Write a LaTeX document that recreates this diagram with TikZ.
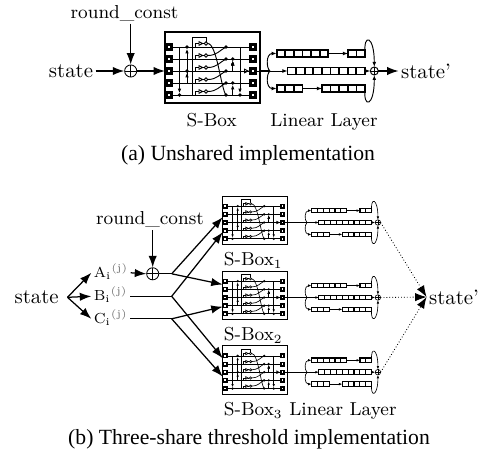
\documentclass[tikz,border=0pt]{standalone}
\usepackage{fontspec}
\usepackage{tikz}
\usetikzlibrary{arrows.meta}
\usetikzlibrary{calc}
\newfontfamily\capfont{Liberation Serif}
\newcommand{\cellrow}[3]{\foreach \k in {1,...,#3} {\draw[fill=white] ({#1+8.6*(\k-1)},{#2-3.35}) rectangle ++(8.6,6.7);}}
\newcommand{\xdot}[2]{\fill (#1,#2) circle (1.9);}
\newcommand{\share}[1]{#1\textsubscript{\tiny i}\textsuperscript{\tiny\color{black!60}(j)}}

\tikzset{
  lbl/.style={inner sep=1pt},
  captext/.style={inner sep=1pt, font=\capfont\fontsize{10.4pt}{12pt}\selectfont},
  bigarr/.style={semithick, -{Latex[length=5.5pt,width=4pt]}},
  dotarr/.style={densely dotted, -{Latex[length=5.5pt,width=4pt]}},
  xor/.style={circle, draw, minimum size=5.8pt, inner sep=0pt,
    path picture={\draw (path picture bounding box.north) -- (path picture bounding box.south)
      (path picture bounding box.west) -- (path picture bounding box.east);}},
  pics/sbox/.style={code={
    \begin{scope}[scale=#1, line width=#1*0.45pt,
        sarr/.style={-{Latex[length=2.2pt,width=1.7pt,scale=#1]}}]
      \coordinate (-nw) at (0,-39);
      \coordinate (-sw) at (0,32);
      \coordinate (-w) at (0,0);
      \coordinate (-e) at (95,0);
      \draw[line width=#1*0.6pt] (0,-39) rectangle (95,32);
      % bit lines and ports
      \foreach \r in {-24,-12,0,12,24} {
        \draw (4,\r) -- (88,\r);
        \draw[line width=#1*1.1pt, fill=white] (1.5,\r-2.5) rectangle (6.5,\r+2.5);
        \draw[line width=#1*1.1pt, fill=white] (85.5,\r-2.5) rectangle (90.5,\r+2.5);
      }
      \draw (90.5,0) -- (95,0);
      % input xors
      \draw[sarr] (14.5,-24) -- (14.5,22.2);
      \draw (22,12) -- (22,-12);
      \draw[sarr] (22,-12) -- (22,-22.2);
      \draw[sarr] (22,12) -- (22,1.8);
      \xdot{14.5}{24}
      \xdot{22}{-24}
      \xdot{22}{0}
      % and-not gates
      \draw (27.5,24) -- (27.5,-34) -- (41,-34) -- (41,-29.2);
      \foreach \r in {-24,-12,0,12,24} {
        \draw (30.5,\r) |- (34,\r-3.5);
        \draw (34,\r-5.3) -- (37.5,\r-3.5) -- (34,\r-1.7) -- cycle;
        \draw (37.5,\r-3.5) -- (39.3,\r-3.5);
        \draw[fill=white] (41,\r-3.5) circle (1.7);
      }
      \draw (42.7,-27.5) .. controls (52,-27.5) and (56,18) .. (61,24);
      \foreach \a/\b in {-12/-24,0/-12,12/0,24/12}
        \draw (42.7,\a-3.5) .. controls (52,\a-3.5) and (55,\b+3) .. (61,\b);
      \foreach \r in {-24,-12,0,12,24} \xdot{61}{\r}
      % output xors
      \draw[sarr] (67.7,0) -- (67.7,-10.2);
      \draw[sarr] (67.7,24) -- (67.7,13.8);
      \draw[sarr] (75,-24) -- (75,22.2);
      \xdot{67.7}{-12}
      \xdot{67.7}{12}
      \xdot{75}{24}
      \draw (79.5,-1.8) -- (83,0) -- (79.5,1.8) -- cycle;
    \end{scope}
  }},
  pics/linlayer/.style={code={
    \begin{scope}[scale=#1, line width=#1*0.45pt,
        sarr/.style={-{Latex[length=2.4pt,width=1.8pt,scale=#1]}}]
      \coordinate (-in) at (0,0);
      \coordinate (-out) at (108.3,0);
      % shift registers
      \begin{scope}[line width=#1*0.8pt]
        \cellrow{6.7}{-17.5}{6}
        \cellrow{78}{-17.5}{2}
        \cellrow{17.5}{0}{9}
        \cellrow{6.7}{17.5}{3}
        \cellrow{52}{17.5}{5}
      \end{scope}
      \draw[sarr] (0,0) .. controls (-4,-3) and (-4,-17.5) .. (6.7,-17.5);
      \draw[sarr] (0,0) -- (17.5,0);
      \draw[sarr] (0,0) .. controls (-4,3) and (-4,17.5) .. (6.7,17.5);
      \draw[sarr] (58.3,-17.5) -- (78,-17.5);
      \draw[sarr] (32.5,17.5) -- (52,17.5);
      \draw[sarr] (94.9,0) -- (100.3,0);
      % feedback
      \draw[sarr] (95.2,-17.5) .. controls (93,-38) and (104.3,-36) .. (104.3,-4);
      \draw[sarr] (95,17.5) .. controls (93,38) and (104.3,36) .. (104.3,4);
      \draw (104.3,0) circle (4);
      \draw (100.3,0) -- (108.3,0) (104.3,-4) -- (104.3,4);
    \end{scope}
  }}
}

\begin{document}
\begin{tikzpicture}[x=0.48pt,y=-0.48pt]
  \useasboundingbox (0,0) rectangle (481,456);
  % (a) unshared
  \node[lbl] (st1) at (71,71) {state};
  \node[xor] (xor1) at (130.7,71) {};
  \node[lbl, anchor=base, font=\small] (rc1) at (124.5,18.5) {round\_const};
  \pic (sb0) at (165,71) {sbox=1};
  \pic (ll0) at (270,71) {linlayer=1};
  \node[lbl] (st2) at (426,71) {state'};
  \draw[bigarr] (st1.east) -- (xor1.west);
  \draw[bigarr] (rc1.south -| xor1) -- (xor1.north);
  \draw[bigarr] (xor1.east) -- (sb0-w);
  \draw[semithick] (sb0-e) -- (ll0-in);
  \draw[bigarr] (ll0-out) -- (st2.west);
  \node[lbl, anchor=base, font=\small] (lsb0) at (211.7,127) {S-Box};
  \node[lbl, anchor=base, font=\small] (lll0) at (324,127) {Linear Layer};
  \node[captext, anchor=base] (capa) at (248,160.5) {(a) Unshared implementation};
  % (b) three shares
  \node[lbl, inner xsep=4pt] (st3) at (36.7,297.3) {state};
  \node[lbl, anchor=base west, font=\scriptsize] (shA) at (91.3,277.3) {\share{A}};
  \node[lbl, anchor=base west, font=\scriptsize] (shB) at (91.3,300.8) {\share{B}};
  \node[lbl, anchor=base west, font=\scriptsize] (shC) at (91.3,323.3) {\share{C}};
  \node[xor] (xor2) at (152.7,273.8) {};
  \node[lbl, anchor=base, font=\small] (rc2) at (150,225) {round\_const};
  \pic (sb1) at (222.7,222.5) {sbox=0.68};
  \pic (sb2) at (222.7,297.5) {sbox=0.68};
  \pic (sb3) at (222.7,372.2) {sbox=0.68};
  \pic (ll1) at (307,222.5) {linlayer=0.68};
  \pic (ll2) at (307,297.5) {linlayer=0.68};
  \pic (ll3) at (307,372.2) {linlayer=0.68};
  \node[lbl] (st4) at (454,297) {state'};
  \draw[bigarr] (st3.east) -- (shA.mid west);
  \draw[bigarr] (st3.east) -- (shB.mid west);
  \draw[bigarr] (st3.east) -- (shC.mid west);
  \draw[bigarr] (shA.mid east) -- (xor2.west);
  \draw[bigarr] (rc2.south -| xor2) -- (xor2.north);
  \coordinate (ja) at (171.7,273.8);
  \coordinate (jb) at (shB.mid east -| ja);
  \coordinate (jc) at (shC.mid east -| ja);
  \draw[semithick] (xor2.east) -- (ja);
  \draw[semithick] (shB.mid east) -- (jb);
  \draw[semithick] (shC.mid east) -- (jc);
  \draw[bigarr] (ja) -- ($(sb1-nw)!0.44!(sb1-sw)$);
  \draw[bigarr] (ja) -- ($(sb2-nw)!0.28!(sb2-sw)$);
  \draw[bigarr] (jb) -- ($(sb1-nw)!0.75!(sb1-sw)$);
  \draw[bigarr] (jb) -- ($(sb3-nw)!0.26!(sb3-sw)$);
  \draw[bigarr] (jc) -- ($(sb2-nw)!0.74!(sb2-sw)$);
  \draw[bigarr] (jc) -- ($(sb3-nw)!0.64!(sb3-sw)$);
  \draw[semithick] (sb1-e) -- (ll1-in);
  \draw[semithick] (sb2-e) -- (ll2-in);
  \draw[semithick] (sb3-e) -- (ll3-in);
  \draw[dotarr] (ll1-out) -- (st4.west);
  \draw[dotarr] (ll2-out) -- (st4.west);
  \draw[dotarr] (ll3-out) -- (st4.west);
  \node[lbl, anchor=base, font=\small] (lsb1) at (253.3,266) {S-Box$_1$};
  \node[lbl, anchor=base, font=\small] (lsb2) at (253.3,341) {S-Box$_2$};
  \node[lbl, anchor=base, font=\small] (lsb3) at (253.3,416) {S-Box$_3$};
  \node[lbl, anchor=base, font=\small] (lll1) at (343,416) {Linear Layer};
  \node[captext, anchor=base] (capb) at (249,445) {(b) Three-share threshold implementation};
\end{tikzpicture}
\end{document}
